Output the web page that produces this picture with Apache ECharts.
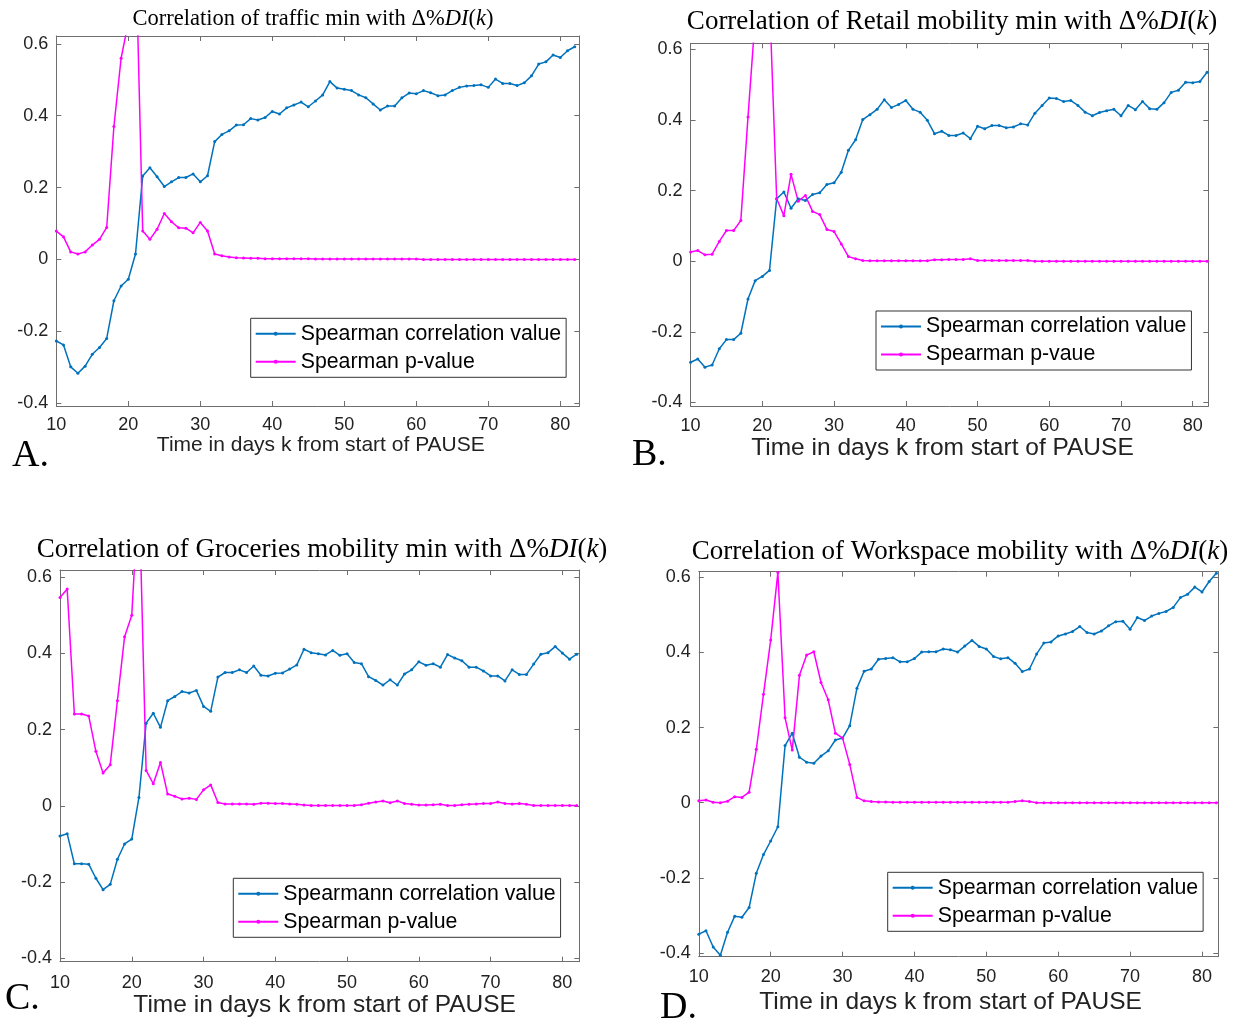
<!DOCTYPE html>
<html lang="en">
<head>
<meta charset="UTF-8">
<title>Spearman correlation with Δ%DI(k)</title>
<script src="https://cdn.jsdelivr.net/npm/echarts@6/dist/echarts.min.js"></script>
<style>
  body { margin: 0; background: #fff; }
  #chart { width: 1243px; height: 1020px; }
</style>
</head>
<body>
<div id="chart"></div>
<script>
// days k from start of PAUSE
var days = [10, 11, 12, 13, 14, 15, 16, 17, 18, 19, 20, 21, 22, 23, 24, 25, 26, 27, 28, 29,
  30, 31, 32, 33, 34, 35, 36, 37, 38, 39, 40, 41, 42, 43, 44, 45, 46, 47, 48, 49,
  50, 51, 52, 53, 54, 55, 56, 57, 58, 59, 60, 61, 62, 63, 64, 65, 66, 67, 68, 69,
  70, 71, 72, 73, 74, 75, 76, 77, 78, 79, 80, 81, 82];

var xTickLabels = [10, 20, 30, 40, 50, 60, 70, 80];
var yTickLabels = [-0.4, -0.2, 0, 0.2, 0.4, 0.6];

// A. traffic
var trafficCorr = [-0.227, -0.238, -0.299, -0.317, -0.297, -0.264, -0.245, -0.22, -0.115, -0.074,
  -0.055, 0.015, 0.232, 0.255, 0.23, 0.203, 0.216, 0.228, 0.228, 0.238,
  0.216, 0.233, 0.328, 0.348, 0.358, 0.374, 0.375, 0.392, 0.388, 0.395,
  0.412, 0.405, 0.422, 0.43, 0.438, 0.425, 0.441, 0.458, 0.495, 0.477,
  0.474, 0.47, 0.458, 0.45, 0.433, 0.416, 0.427, 0.427, 0.45, 0.463,
  0.461, 0.47, 0.464, 0.456, 0.458, 0.47, 0.479, 0.483, 0.484, 0.486,
  0.479, 0.502, 0.49, 0.49, 0.484, 0.492, 0.511, 0.544, 0.55, 0.569,
  0.562, 0.581, 0.592];
var trafficP = [0.079, 0.063, 0.021, 0.015, 0.021, 0.04, 0.056, 0.089, 0.37, 0.56,
  0.66, 0.89, 0.079, 0.056, 0.084, 0.128, 0.105, 0.088, 0.087, 0.074,
  0.103, 0.079, 0.015, 0.01, 0.007, 0.005, 0.004, 0.003, 0.003, 0.002,
  0.002, 0.002, 0.002, 0.002, 0.002, 0.002, 0.001, 0.001, 0.001, 0.001,
  0.001, 0.001, 0.001, 0.001, 0.001, 0.001, 0.001, 0.001, 0.001, 0.001,
  0.001, 0, 0, 0, 0, 0, 0, 0, 0, 0,
  0, 0, 0, 0, 0, 0, 0, 0, 0, 0,
  0, 0, 0];

// B. retail
var retailCorr = [-0.286, -0.277, -0.3, -0.294, -0.248, -0.222, -0.222, -0.204, -0.107, -0.055,
  -0.043, -0.026, 0.177, 0.196, 0.15, 0.177, 0.172, 0.189, 0.194, 0.217,
  0.222, 0.252, 0.314, 0.344, 0.401, 0.415, 0.43, 0.457, 0.435, 0.444,
  0.455, 0.43, 0.422, 0.399, 0.361, 0.368, 0.356, 0.356, 0.363, 0.347,
  0.382, 0.375, 0.384, 0.384, 0.378, 0.38, 0.389, 0.386, 0.419, 0.441,
  0.462, 0.461, 0.452, 0.455, 0.441, 0.422, 0.412, 0.421, 0.426, 0.43,
  0.412, 0.441, 0.429, 0.452, 0.432, 0.43, 0.449, 0.478, 0.484, 0.507,
  0.505, 0.509, 0.535];
var retailP = [0.026, 0.03, 0.018, 0.02, 0.056, 0.087, 0.087, 0.115, 0.408, 0.689,
  0.8, 0.746, 0.177, 0.129, 0.246, 0.17, 0.186, 0.141, 0.132, 0.09,
  0.084, 0.049, 0.013, 0.007, 0.002, 0.001, 0.001, 0.001, 0.001, 0.001,
  0.001, 0.001, 0.001, 0.001, 0.004, 0.004, 0.005, 0.005, 0.005, 0.007,
  0.002, 0.002, 0.002, 0.002, 0.002, 0.002, 0.002, 0.002, 0, 0,
  0, 0, 0, 0, 0, 0, 0, 0, 0, 0,
  0, 0, 0, 0, 0, 0, 0, 0, 0, 0,
  0, 0, 0];

// C. groceries
var groceriesCorr = [-0.079, -0.073, -0.152, -0.152, -0.153, -0.19, -0.22, -0.206, -0.14, -0.1,
  -0.087, 0.022, 0.217, 0.243, 0.206, 0.276, 0.287, 0.3, 0.296, 0.303,
  0.261, 0.248, 0.338, 0.35, 0.35, 0.357, 0.35, 0.367, 0.343, 0.341,
  0.348, 0.349, 0.359, 0.37, 0.411, 0.402, 0.399, 0.396, 0.408, 0.395,
  0.399, 0.376, 0.373, 0.339, 0.329, 0.317, 0.331, 0.317, 0.346, 0.357,
  0.378, 0.369, 0.373, 0.364, 0.397, 0.388, 0.381, 0.364, 0.364, 0.354,
  0.341, 0.341, 0.328, 0.357, 0.345, 0.345, 0.372, 0.398, 0.402, 0.418,
  0.401, 0.385, 0.398];
var groceriesP = [0.547, 0.569, 0.241, 0.241, 0.236, 0.143, 0.086, 0.108, 0.276, 0.444,
  0.5, 0.84, 0.093, 0.058, 0.114, 0.031, 0.025, 0.018, 0.02, 0.017,
  0.042, 0.055, 0.009, 0.005, 0.005, 0.005, 0.005, 0.004, 0.007, 0.007,
  0.006, 0.006, 0.005, 0.004, 0.002, 0.001, 0.001, 0.001, 0.001, 0.001,
  0.001, 0.001, 0.003, 0.007, 0.01, 0.013, 0.008, 0.013, 0.006, 0.004,
  0.002, 0.002, 0.003, 0.004, 0.001, 0.001, 0.003, 0.004, 0.005, 0.006,
  0.006, 0.01, 0.006, 0.005, 0.006, 0.004, 0.001, 0.001, 0.001, 0.001,
  0.001, 0.001, 0.001];

// D. workspace
var workspaceCorr = [-0.35, -0.341, -0.384, -0.406, -0.345, -0.302, -0.305, -0.279, -0.188, -0.138,
  -0.102, -0.064, 0.152, 0.185, 0.121, 0.108, 0.105, 0.124, 0.138, 0.167,
  0.172, 0.205, 0.305, 0.35, 0.356, 0.382, 0.384, 0.386, 0.375, 0.375,
  0.384, 0.401, 0.402, 0.402, 0.409, 0.407, 0.401, 0.417, 0.432, 0.416,
  0.409, 0.389, 0.383, 0.386, 0.371, 0.349, 0.356, 0.396, 0.425, 0.428,
  0.444, 0.449, 0.456, 0.469, 0.453, 0.449, 0.457, 0.471, 0.482, 0.483,
  0.462, 0.493, 0.485, 0.497, 0.504, 0.509, 0.52, 0.546, 0.555, 0.574,
  0.561, 0.589, 0.611];
var workspaceP = [0.005, 0.007, 0.001, 0, 0.004, 0.016, 0.014, 0.028, 0.142, 0.289,
  0.433, 0.613, 0.226, 0.14, 0.339, 0.393, 0.402, 0.32, 0.274, 0.185,
  0.172, 0.102, 0.014, 0.005, 0.003, 0.002, 0.002, 0.001, 0.001, 0.001,
  0.001, 0.001, 0.001, 0.001, 0.001, 0.001, 0.001, 0.001, 0.001, 0.001,
  0.001, 0.001, 0.001, 0.001, 0.003, 0.005, 0.003, 0, 0, 0,
  0, 0, 0, 0, 0, 0, 0, 0, 0, 0,
  0, 0, 0, 0, 0, 0, 0, 0, 0, 0,
  0, 0, 0];

var blue = '#0072BD';
var magenta = '#FF00FF';
var axisColor = '#6e6e6e';
var sans = 'Liberation Sans';
var serif = 'Liberation Serif';

var panels = [
  { subject: 'traffic min', letter: 'A.', corr: trafficCorr, p: trafficP,
    corrName: 'Spearman correlation value', pName: 'Spearman p-value',
    grid: { left: 56.3, top: 36, width: 523, height: 370 },
    xMax: 82.64, yMin: -0.408, yMax: 0.622,
    titleX: 313, titleTop: 8, titleSize: 22.5,
    nameSize: 21, nameGap: 28, namePad: [0, 0, 0, 6], labelMargin: 10,
    legendLeft: 250.7, legendTop: 318.3, letterX: 12, letterTop: 437 },
  { subject: 'Retail mobility min', letter: 'B.', corr: retailCorr, p: retailP,
    corrName: 'Spearman correlation value', pName: 'Spearman p-vaue',
    grid: { left: 690.6, top: 43.3, width: 517.7, height: 362.7 },
    xMax: 82.17, yMin: -0.41, yMax: 0.617,
    titleX: 952, titleTop: 8.5, titleSize: 27,
    nameSize: 24.5, nameGap: 27, namePad: [0, 14, 0, 0], labelMargin: 11,
    legendLeft: 876, legendTop: 311, letterX: 632, letterTop: 436 },
  { subject: 'Groceries mobility min', letter: 'C.', corr: groceriesCorr, p: groceriesP,
    corrName: 'Spearmann correlation value', pName: 'Spearman p-value',
    grid: { left: 60, top: 570, width: 519.3, height: 391.7 },
    xMax: 82.36, yMin: -0.409, yMax: 0.619,
    titleX: 322, titleTop: 536.5, titleSize: 27,
    nameSize: 24.5, nameGap: 24, namePad: [0, 0, 0, 10], labelMargin: 12,
    legendLeft: 233.3, legendTop: 878.3, letterX: 5, letterTop: 980 },
  { subject: 'Workspace mobility', letter: 'D.', corr: workspaceCorr, p: workspaceP,
    corrName: 'Spearman correlation value', pName: 'Spearman p-value',
    grid: { left: 698.8, top: 571.7, width: 519.5, height: 385 },
    xMax: 82.27, yMin: -0.41, yMax: 0.615,
    titleX: 960, titleTop: 538.5, titleSize: 27,
    nameSize: 24.5, nameGap: 33, namePad: [0, 16, 0, 0], labelMargin: 11,
    legendLeft: 887.7, legendTop: 872.3, letterX: 660, letterTop: 989 }
];

function xLabel(v) {
  return xTickLabels.indexOf(Math.round(v)) >= 0 && Math.abs(v - Math.round(v)) < 1e-6 ? String(Math.round(v)) : '';
}
function yLabel(v) {
  for (var i = 0; i < yTickLabels.length; i++) {
    if (Math.abs(v - yTickLabels[i]) < 1e-6) return String(yTickLabels[i]);
  }
  return '';
}
function pairs(vals) {
  return days.map(function (d, j) { return [d, vals[j]]; });
}

var grids = [], xAxes = [], yAxes = [], series = [], titles = [], legends = [], letters = [];

panels.forEach(function (pn, i) {
  grids.push(pn.grid);

  var tick = { inside: true, length: 5, lineStyle: { color: axisColor } };
  var line = { onZero: false, lineStyle: { color: axisColor, width: 1 } };

  // bottom + mirrored top axis
  xAxes.push({
    gridIndex: i, type: 'value', position: 'bottom', min: 10, max: pn.xMax, interval: 10,
    axisLine: line, axisTick: tick, splitLine: { show: false },
    axisLabel: { margin: pn.labelMargin, fontFamily: sans, fontSize: 18, color: '#222', formatter: xLabel },
    name: 'Time in days k from start of PAUSE', nameLocation: 'middle', nameGap: pn.nameGap,
    nameTextStyle: { fontFamily: sans, fontSize: pn.nameSize, color: '#222', padding: pn.namePad }
  });
  xAxes.push({
    gridIndex: i, type: 'value', position: 'top', min: 10, max: pn.xMax, interval: 10,
    axisLine: line, axisTick: tick, splitLine: { show: false }, axisLabel: { show: false }
  });
  // left + mirrored right axis
  yAxes.push({
    gridIndex: i, type: 'value', position: 'left', min: pn.yMin, max: pn.yMax,
    splitNumber: 5, minInterval: 0.2, maxInterval: 0.2,
    axisLine: Object.assign({ show: true }, line), axisTick: Object.assign({ show: true }, tick),
    splitLine: { show: false },
    axisLabel: { margin: 8, fontFamily: sans, fontSize: 18, color: '#222', formatter: yLabel }
  });
  yAxes.push({
    gridIndex: i, type: 'value', position: 'right', min: pn.yMin, max: pn.yMax,
    splitNumber: 5, minInterval: 0.2, maxInterval: 0.2,
    axisLine: Object.assign({ show: true }, line), axisTick: Object.assign({ show: true }, tick),
    splitLine: { show: false }, axisLabel: { show: false }
  });

  series.push({
    type: 'line', name: pn.corrName, xAxisIndex: 2 * i, yAxisIndex: 2 * i,
    data: pairs(pn.corr), symbol: 'circle', symbolSize: 3,
    lineStyle: { color: blue, width: 1.5 }, itemStyle: { color: blue }
  });
  series.push({
    type: 'line', name: pn.pName, xAxisIndex: 2 * i, yAxisIndex: 2 * i,
    data: pairs(pn.p), symbol: 'circle', symbolSize: 3,
    lineStyle: { color: magenta, width: 1.5 }, itemStyle: { color: magenta }
  });

  var rich = {
    n: { fontFamily: serif, fontSize: pn.titleSize, fontWeight: 'normal', color: '#000' },
    i: { fontFamily: serif, fontSize: pn.titleSize, fontWeight: 'normal', fontStyle: 'italic', color: '#000' }
  };
  titles.push({
    text: '{n|Correlation of ' + pn.subject + ' with Δ%}{i|DI}{n|(}{i|k}{n|)}',
    left: pn.titleX, top: pn.titleTop, textAlign: 'center', padding: 0,
    textStyle: { fontWeight: 'normal', rich: rich }
  });

  legends.push({
    orient: 'vertical', left: pn.legendLeft, top: pn.legendTop,
    data: [pn.corrName, pn.pName], selectedMode: false,
    itemWidth: 40, itemHeight: 5, itemGap: 7, itemTextGap: 3,
    padding: [5, 5, 5, 4], borderColor: '#333', borderWidth: 1, backgroundColor: '#fff',
    textStyle: { fontFamily: sans, fontSize: 21.3, color: '#000' }
  });

  letters.push({
    type: 'text', left: pn.letterX, top: pn.letterTop,
    style: { text: pn.letter, font: '38px "Liberation Serif"', fill: '#000' }
  });
});

var chart = echarts.init(document.getElementById('chart'));
chart.setOption({
  animation: false,
  backgroundColor: '#fff',
  title: titles,
  legend: legends,
  grid: grids,
  xAxis: xAxes,
  yAxis: yAxes,
  series: series,
  graphic: letters
});
</script>
</body>
</html>
